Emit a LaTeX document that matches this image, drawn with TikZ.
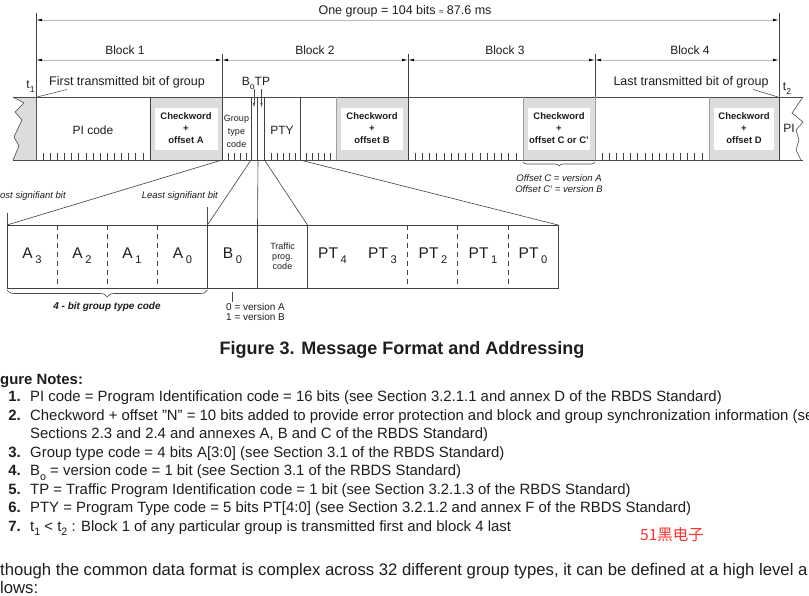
\documentclass[tikz,border=0pt]{standalone}
\usepackage{graphicx}
\usepackage{fontspec}
\setmainfont{Liberation Sans}
\newfontfamily\cjkfont{Noto Sans CJK SC}
\usetikzlibrary{arrows.meta,decorations.pathreplacing}
\newcommand\sbs[1]{\raisebox{-0.32em}{\scalebox{0.72}{#1}}}
\definecolor{ink}{HTML}{1E1E1E}
\definecolor{cwgray}{HTML}{DCDCDC}
\definecolor{wmred}{HTML}{FF3030}
\begin{document}
\begin{tikzpicture}[x=1pt,y=-1pt,
  every node/.style={inner sep=0pt, text=ink},
  dim/.style={draw=gray!55, line width=0.6pt, {Latex[length=6pt,width=2.6pt,color=black]}-{Latex[length=6pt,width=2.6pt,color=black]}},
  bar/.style={draw=black!70, line width=0.8pt},
  sep/.style={draw=black!75, line width=0.8pt},
  gsep/.style={draw=gray!75, line width=0.8pt},
  tick/.style={draw=black!75, line width=0.6pt},
  lead/.style={draw=black!70, line width=0.6pt},
  conn/.style={draw=black!75, line width=0.6pt},
  lbl/.style={font=\fontsize{12}{14}\selectfont},
  cw/.style={align=center, font=\fontsize{9.5}{12}\selectfont\bfseries},
  small/.style={font=\fontsize{9}{9.8}\selectfont, align=center},
  note/.style={anchor=base west, font=\fontsize{14.9}{18}\selectfont},
  num/.style={anchor=base east, font=\fontsize{14.9}{18}\selectfont\bfseries},
  cell/.style={font=\fontsize{15.5}{16}\selectfont},
  ital/.style={font=\fontsize{9.5}{11}\selectfont\itshape}
]
\fill[white] (0,0) rectangle (809,596);
\useasboundingbox (0,0) rectangle (809,596);

% ---------- top dimension ----------
\node[font=\fontsize{12.5}{14}\selectfont] (grp) at (405,11) {One group = 104 bits {\fontsize{8}{8}\selectfont ≈} 87.6 ms};
\coordinate (gL) at (36,20);
\coordinate (gR) at (779,20);
\draw[dim] (gL) -- (gR);
\draw[sep] (36,13) -- (36,160);
\draw[sep] (779,13) -- (779,160);

% ---------- block dimensions ----------
\coordinate (b0) at (36,60);
\coordinate (b1) at (222,60);
\coordinate (b2) at (408,60);
\coordinate (b3) at (595,60);
\coordinate (b4) at (779,60);
\draw[dim] (b0) -- (b1);
\draw[dim] (b1) -- (b2);
\draw[dim] (b2) -- (b3);
\draw[dim] (b3) -- (b4);
\draw[sep] (222,54) -- (222,97);
\draw[sep] (408,54) -- (408,97);
\draw[sep] (595,54) -- (595,97);
\node[lbl] (blk1) at (125,50) {Block 1};
\node[lbl] (blk2) at (315,50) {Block 2};
\node[lbl] (blk3) at (505,50) {Block 3};
\node[lbl] (blk4) at (690,50) {Block 4};

% ---------- main bar fills ----------
\fill[cwgray] (13,97) -- (24,103) -- (15,112) -- (22,120) -- (14,137) -- (19,146) -- (13,160) -- (36,160) -- (36,97) -- cycle;
\fill[cwgray] (150,97) rectangle (222,160);
\fill[white] (154.5,108) rectangle (217.5,150.5);
\fill[cwgray] (336,97) rectangle (408,160);
\fill[white] (341,108) rectangle (403,150.5);
\fill[cwgray] (523,97) rectangle (595,160);
\fill[white] (528,108) rectangle (590,150.5);
\fill[cwgray] (709,97) rectangle (779,160);
\fill[white] (714,108) rectangle (774,150.5);

\draw[bar] (13,97) -- (803,97);
\draw[bar] (13,160) -- (803,160);
\draw[lead] (13,97) -- (24,103) -- (15,112) -- (22,120) -- (14,137) -- (19,146) -- (13,160);
\draw[lead] (803,97) -- (792,113) -- (803,122) -- (796,130) -- (799,140) -- (796,150) -- (801,160);

% separators
\draw[sep] (150,97) -- (150,160);
\draw[sep] (222,97) -- (222,160);
\draw[sep] (251,97) -- (251,160);
\draw[sep] (257.5,97) -- (257.5,160);
\draw[sep] (264.5,97) -- (264.5,160);
\draw[sep] (300,97) -- (300,160);
\draw[gsep] (336,97) -- (336,160);
\draw[sep] (408,97) -- (408,160);
\draw[gsep] (523,97) -- (523,160);
\draw[gsep] (595,97) -- (595,160);
\draw[gsep] (709,97) -- (709,160);

% ticks
\foreach \k in {1,...,15} \draw[tick] ({36+\k*7.125},153) -- ++(0,7);
\foreach \x in {228,234,240,246} \draw[tick] (\x,153) -- ++(0,7);
\foreach \x in {271,277,283,289,295} \draw[tick] (\x,153) -- ++(0,7);
\foreach \x in {306,312,318,324,330} \draw[tick] (\x,153) -- ++(0,7);
\foreach \k in {1,...,15} \draw[tick] ({408+\k*7.19},153) -- ++(0,7);
\foreach \k in {1,...,15} \draw[tick] ({595+\k*7.125},153) -- ++(0,7);

% bar texts
\node[lbl] (pi) at (93,130) {PI code};
\node[cw] (cwA) at (186,128) {Checkword\\+\\offset A};
\node[font=\fontsize{9}{13}\selectfont, align=center] (gtc) at (236.5,131) {Group\\type\\code};
\node[lbl] (pty) at (282,130) {PTY};
\node[cw] (cwB) at (372,128) {Checkword\\+\\offset B};
\node[cw] (cwC) at (559,128) {Checkword\\+\\offset C or C'};
\node[cw] (cwD) at (744,128) {Checkword\\+\\offset D};
\node[lbl] (pir) at (789,128) {PI};

% B0 TP
\node[lbl, anchor=base] (b0tp) at (256,86) {B\sbs{o}TP};
\coordinate (aB0s) at (254,89);
\coordinate (aB0e) at (254,108);
\coordinate (aTPs) at (261.5,89);
\coordinate (aTPe) at (261.5,108);
\draw[lead, -{Latex[length=5pt,width=2.2pt]}] (aB0s) -- (aB0e);
\draw[lead, -{Latex[length=5pt,width=2.2pt]}] (aTPs) -- (aTPe);

% t1 / t2 leaders
\node[lbl, anchor=base] (t1) at (30.5,89) {t\sbs{1}};
\node[font=\fontsize{12.5}{14}\selectfont] (first) at (127,82) {First transmitted bit of group};
\coordinate (t1a) at (67,89.5);
\coordinate (t1b) at (37,97);
\draw[lead] (t1a) -- (t1b);
\node[lbl, anchor=base] (t2) at (787,91) {t\sbs{2}};
\node[font=\fontsize{12.5}{14}\selectfont] (last) at (691,82) {Last transmitted bit of group};
\coordinate (t2a) at (753,89.5);
\coordinate (t2b) at (778,97);
\draw[lead] (t2a) -- (t2b);

% offset C brace
\draw[lead, decorate, decoration={brace, mirror, amplitude=4pt}] (523,162) -- (595,162);
\node[ital] (offC) at (559,178) {Offset C = version A};
\node[ital] (offC2) at (559,189.5) {Offset C' = version B};

% ---------- expanded bar ----------
\draw[sep] (7,225) rectangle (558,288);
\foreach \k in {1,2,3,8,9,10} \draw[sep, dash pattern=on 5pt off 4pt] ({7+\k*50.09},225) -- ({7+\k*50.09},288);
\foreach \k in {4,5,6} \draw[sep] ({7+\k*50.09},225) -- ({7+\k*50.09},288);
\node[cell] (A3) at (32,256) {A\,\sbs{3}};
\node[cell] (A2) at (82,256) {A\,\sbs{2}};
\node[cell] (A1) at (132,256) {A\,\sbs{1}};
\node[cell] (A0) at (182.5,256) {A\,\sbs{0}};
\node[cell] (B0) at (232.5,256) {B\,\sbs{0}};
\node[small] (tpc) at (282.5,256) {Traffic\\prog.\\code};
\node[cell] (PT4) at (332.5,256) {PT\,\sbs{4}};
\node[cell] (PT3) at (382.5,256) {PT\,\sbs{3}};
\node[cell] (PT2) at (433,256) {PT\,\sbs{2}};
\node[cell] (PT1) at (483,256) {PT\,\sbs{1}};
\node[cell] (PT0) at (533,256) {PT\,\sbs{0}};

% connectors bar -> expanded
\coordinate (cA) at (222,160);
\coordinate (cB) at (251,160);
\coordinate (cC) at (258,160);
\coordinate (cD) at (264.5,160);
\coordinate (cE) at (300,160);
\coordinate (xA) at (7,225);
\coordinate (xB) at (207.4,225);
\coordinate (xC) at (257.5,225);
\coordinate (xD) at (307.5,225);
\coordinate (xE) at (558,225);
\draw[conn] (cA) -- (xA);
\draw[conn] (cB) -- (xB);
\draw[conn] (cC) -- (xC);
\draw[conn] (cD) -- (xD);
\draw[conn] (cE) -- (xE);

% MSB / LSB pointers
\node[ital, anchor=base west] (msb) at (0,199) {ost signifiant bit};
\node[ital, anchor=base east] (lsb) at (218,199) {Least signifiant bit};
\coordinate (msbp) at (7,213);
\coordinate (lsbp) at (207.4,207);
\draw[lead] (msbp) -- (xA);
\draw[lead] (lsbp) -- (xB);

% 4-bit group type brace
\draw[lead, decorate, decoration={brace, mirror, amplitude=7pt}] (7,290) -- (207.4,290);
\node[font=\fontsize{10}{12}\selectfont\bfseries\itshape] (gtb) at (107,307) {4 - bit group type code};

% B0 version
\coordinate (bv1) at (232,292);
\coordinate (bv2) at (232,302);
\draw[lead] (bv1) -- (bv2);
\node[font=\fontsize{10}{11}\selectfont, anchor=west] (verA) at (226,306.5) {0 = version A};
\node[font=\fontsize{10}{11}\selectfont, anchor=west] (verB) at (226,317) {1 = version B};

% ---------- caption and notes ----------
\node[font=\fontsize{18}{20}\selectfont\bfseries] (cap) at (402,350) {Figure 3. Message Format and Addressing};
\node[anchor=base west, font=\fontsize{14.9}{18}\selectfont\bfseries] (nh) at (0,384.5) {gure Notes:};
\node[num] (n1) at (21,401.5) {1.};
\node[note] (t1n) at (30,401.5) {PI code = Program Identification code = 16 bits (see Section 3.2.1.1 and annex D of the RBDS Standard)};
\node[num] (n2) at (21,420) {2.};
\node[note] (t2n) at (30,420) {Checkword + offset "N" = 10 bits added to provide error protection and block and group synchronization information (se};
\node[note] (t2m) at (30,438.5) {Sections 2.3 and 2.4 and annexes A, B and C of the RBDS Standard)};
\node[num] (n3) at (21,457) {3.};
\node[note] (t3n) at (30,457) {Group type code = 4 bits A[3:0] (see Section 3.1 of the RBDS Standard)};
\node[num] (n4) at (21,475.5) {4.};
\node[note] (t4n) at (30,475.5) {B\sbs{o} = version code = 1 bit (see Section 3.1 of the RBDS Standard)};
\node[num] (n5) at (21,494) {5.};
\node[note] (t5n) at (30,494) {TP = Traffic Program Identification code = 1 bit (see Section 3.2.1.3 of the RBDS Standard)};
\node[num] (n6) at (21,512.5) {6.};
\node[note] (t6n) at (30,512.5) {PTY = Program Type code = 5 bits PT[4:0] (see Section 3.2.1.2 and annex F of the RBDS Standard)};
\node[num] (n7) at (21,531) {7.};
\node[note] (t7n) at (30,531) {t\sbs{1} < t\sbs{2} : Block 1 of any particular group is transmitted first and block 4 last};
\node[font=\fontsize{15.5}{16}\selectfont\cjkfont, text=wmred] (wm) at (672,535) {51黑电子};
\node[anchor=base west, font=\fontsize{16.7}{19}\selectfont] (p1) at (0,575.5) {though the common data format is complex across 32 different group types, it can be defined at a high level a};
\node[anchor=base west, font=\fontsize{16.7}{19}\selectfont] (p2) at (0,593) {lows:};
\end{tikzpicture}
\end{document}
